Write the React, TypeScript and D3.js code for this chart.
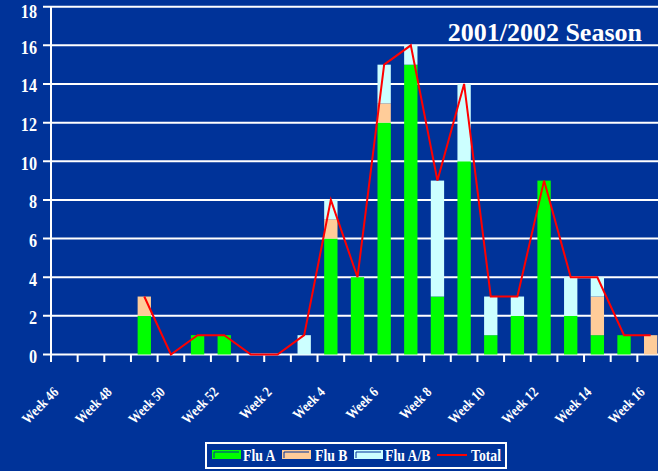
import { useEffect, useRef } from "react";
import * as d3 from "d3";

// weekly counts
const weeks = ["46", "47", "48", "49", "50", "51", "52", "1", "2", "3", "4", "5", "6", "7", "8", "9", "10", "11", "12", "13", "14", "15", "16"];
const fluA = [0, 0, 0, 2, 0, 1, 1, 0, 0, 0, 6, 4, 12, 15, 3, 10, 1, 2, 9, 2, 1, 1, 0];
const fluB = [0, 0, 0, 1, 0, 0, 0, 0, 0, 0, 1, 0, 1, 0, 0, 0, 0, 0, 0, 0, 2, 0, 1];
const fluAB = [0, 0, 0, 0, 0, 0, 0, 0, 0, 1, 1, 0, 2, 1, 6, 4, 2, 1, 0, 2, 1, 0, 0];
const total = [null, null, null, 3, 0, 1, 1, 0, 0, 1, 8, 4, 15, 16, 9, 14, 3, 3, 9, 4, 4, 1, 1];
const yTicks = [0, 2, 4, 6, 8, 10, 12, 14, 16, 18];
const labelWeeks = ["46", "48", "50", "52", "2", "4", "6", "8", "10", "12", "14", "16"];

const keys = ["Flu A", "Flu B", "Flu A/B"];
const colors = ["#00ff00", "#ffcc99", "#ccffff"];

const W = 658;
const H = 471;
const BG = "#003399";
const FONT = "'Liberation Serif', 'Times New Roman', serif";

const App = () => {
  const ref = useRef<SVGSVGElement>(null);

  useEffect(() => {
    const svg = d3.select(ref.current);
    svg.selectAll("*").remove();

    svg.append("rect").attr("width", W).attr("height", H).attr("fill", BG);

    const x = d3.scaleBand().domain(weeks).range([51, 664]).paddingInner(0.5).paddingOuter(0.25);
    const y = d3.scaleLinear().domain([0, 18]).range([354.5, 6.7]);
    const step = x.step();
    const cx = (w) => x(w) + x.bandwidth() / 2;

    // grid + y labels
    const grid = svg.append("g");
    grid
      .selectAll("line")
      .data(yTicks)
      .enter()
      .append("line")
      .attr("x1", 43)
      .attr("x2", W)
      .attr("y1", (d) => y(d))
      .attr("y2", (d) => y(d))
      .attr("stroke", "#fff")
      .attr("stroke-width", 2);

    grid
      .selectAll("text")
      .data(yTicks)
      .enter()
      .append("text")
      .attr("transform", (d) => `translate(37,${Math.max(y(d) + 8.5, 18)}) scale(0.85,1)`)
      .attr("text-anchor", "end")
      .attr("fill", "#fff")
      .style("font-family", FONT)
      .style("font-weight", "bold")
      .style("font-size", "19px")
      .text((d) => d);

    svg
      .append("line")
      .attr("x1", 51)
      .attr("x2", 51)
      .attr("y1", y(18))
      .attr("y2", y(0) + 1)
      .attr("stroke", "#fff")
      .attr("stroke-width", 2);

    // category ticks under the axis
    svg
      .append("g")
      .selectAll("line")
      .data(weeks)
      .enter()
      .append("line")
      .attr("x1", (d) => x(d) - step * 0.25)
      .attr("x2", (d) => x(d) - step * 0.25)
      .attr("y1", y(0))
      .attr("y2", 362)
      .attr("stroke", "#fff")
      .attr("stroke-width", 2);

    // stacked bars
    const rows = weeks.map((w, i) => ({ week: w, "Flu A": fluA[i], "Flu B": fluB[i], "Flu A/B": fluAB[i] }));
    const series = d3.stack().keys(keys)(rows);

    svg
      .append("g")
      .selectAll("g")
      .data(series)
      .enter()
      .append("g")
      .attr("fill", (d, i) => colors[i])
      .selectAll("rect")
      .data((d) => d)
      .enter()
      .append("rect")
      .attr("x", (d) => x(d.data.week))
      .attr("width", x.bandwidth())
      .attr("y", (d) => y(d[1]))
      .attr("height", (d) => y(d[0]) - y(d[1]));

    // total line
    const line = d3
      .line()
      .defined((d) => d[1] != null)
      .x((d) => cx(d[0]))
      .y((d) => y(d[1]));

    svg
      .append("path")
      .datum(weeks.map((w, i) => [w, total[i]]))
      .attr("d", line)
      .attr("fill", "none")
      .attr("stroke", "#ff0000")
      .attr("stroke-width", 2);

    // week labels
    svg
      .append("g")
      .selectAll("text")
      .data(labelWeeks)
      .enter()
      .append("text")
      .attr("transform", (d) => `translate(${cx(d) - 5},393) rotate(-45) scale(0.85,1)`)
      .attr("text-anchor", "end")
      .attr("fill", "#fff")
      .style("font-family", FONT)
      .style("font-weight", "bold")
      .style("font-size", "14.5px")
      .text((d) => "Week " + d);

    // title
    svg
      .append("text")
      .attr("x", 642)
      .attr("y", 41)
      .attr("text-anchor", "end")
      .attr("fill", "#fff")
      .style("font-family", FONT)
      .style("font-weight", "bold")
      .style("font-size", "26px")
      .text("2001/2002 Season");

    // legend
    const legend = svg.append("g");
    legend
      .append("rect")
      .attr("x", 206)
      .attr("y", 443)
      .attr("width", 300)
      .attr("height", 25)
      .attr("fill", BG)
      .attr("stroke", "#fff")
      .attr("stroke-width", 2);

    const items = [
      { name: "Flu A", sx: 212, tx: 243 },
      { name: "Flu B", sx: 282, tx: 315 },
      { name: "Flu A/B", sx: 354, tx: 385 },
    ];
    items.forEach((it, i) => {
      legend
        .append("rect")
        .attr("x", it.sx)
        .attr("y", 450)
        .attr("width", 29)
        .attr("height", 9)
        .attr("fill", colors[i]);
      legend
        .append("path")
        .attr("d", `M${it.sx + 2},458V452H${it.sx + 27}`)
        .attr("fill", "none")
        .attr("stroke", BG)
        .attr("stroke-width", 1);
      legend
        .append("text")
        .attr("transform", `translate(${it.tx},461) scale(0.86,1)`)
        .attr("fill", "#fff")
        .style("font-family", FONT)
        .style("font-weight", "bold")
        .style("font-size", "16px")
        .text(it.name);
    });
    legend
      .append("line")
      .attr("x1", 437)
      .attr("x2", 467)
      .attr("y1", 455)
      .attr("y2", 455)
      .attr("stroke", "#ff0000")
      .attr("stroke-width", 2);
    legend
      .append("text")
      .attr("transform", "translate(471,461) scale(0.86,1)")
      .attr("fill", "#fff")
      .style("font-family", FONT)
      .style("font-weight", "bold")
      .style("font-size", "16px")
      .text("Total");
  }, []);

  return (
    <svg
      ref={ref}
      width={W}
      height={H}
      style={{ position: "absolute", left: 0, top: 0, display: "block" }}
    />
  );
};

export default App;
